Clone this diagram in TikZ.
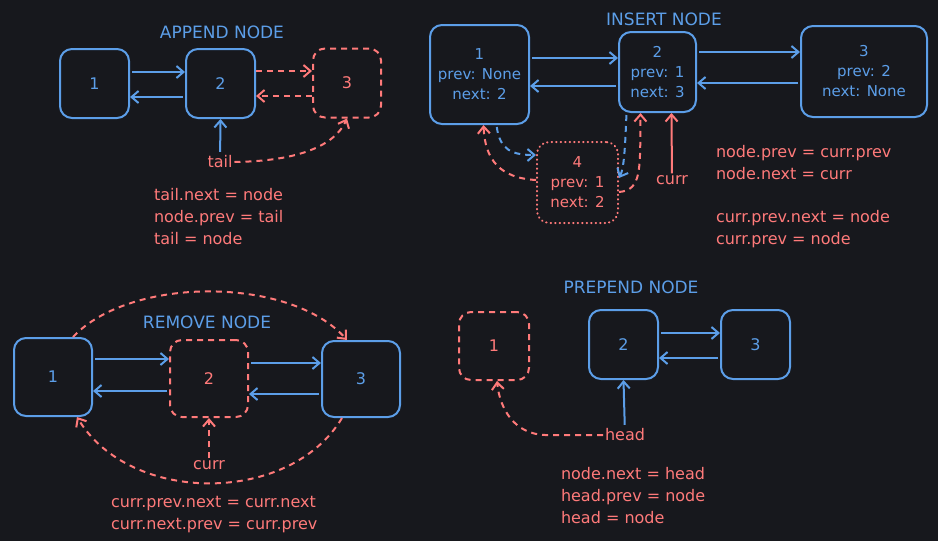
\documentclass[tikz,border=0pt]{standalone}
\usepackage{fontspec}
\setmainfont{DejaVu Sans}
\usetikzlibrary{arrows.meta}
\definecolor{bgdark}{HTML}{17181D}
\definecolor{lblue}{HTML}{5C9EE8}
\definecolor{lred}{HTML}{FF7A7A}

\begin{document}
\begin{tikzpicture}[x=1pt, y=-1pt, line width=2pt,
	box/.style = {draw, rounded corners=12pt, align=center, inner sep=0pt, font=\fontsize{16}{20}\selectfont},
	bnode/.style = {box, draw=lblue, text=lblue},
	rnode/.style = {box, draw=lred, text=lred, dash pattern=on 6pt off 5pt},
	dnode/.style = {box, draw=lred, text=lred, dash pattern=on 0.5pt off 4pt, line cap=round},
	small/.style = {font=\fontsize{15}{20}\selectfont},
	title/.style = {text=lblue, font=\fontsize{17}{20}\selectfont},
	code/.style = {text=lred, align=left, anchor=north west, inner sep=0pt, font=\fontsize{16}{22}\selectfont},
	ptr/.style = {text=lred, inner sep=1pt, font=\fontsize{16}{20}\selectfont},
	blink/.style = {lblue, shorten <=2pt, -{Straight Barb[length=7pt,width=12pt]}},
	rlink/.style = {lred, dash pattern=on 6pt off 5pt, -{Straight Barb[length=7pt,width=12pt]}},
	bdash/.style = {blink, dash pattern=on 6pt off 5pt}]
\useasboundingbox (0,0) rectangle (938,541);
\fill[bgdark] (0,0) rectangle (938,541);

% append
\node[title] (atitle) at (222,32) {APPEND NODE};
\node[bnode, minimum width=69pt, minimum height=69pt] (a1) at (94.5,83.5) {1};
\node[bnode, minimum width=69pt, minimum height=69pt] (a2) at (220.5,83.5) {2};
\node[rnode, minimum width=68pt, minimum height=69pt] (a3) at (347,83) {3};
\node[ptr] (atail) at (220,162) {tail};
\draw[blink] (a1.east |- 0,72) -- (a2.west |- 0,72);
\draw[blink] (a2.west |- 0,97) -- (a1.east |- 0,97);
\draw[rlink] (a2.east |- 0,71) -- (a3.west |- 0,71);
\draw[rlink] (a3.west |- 0,96) -- (a2.east |- 0,96);
\draw[blink] (atail) -- (a2.south);
\draw[rlink] (atail.east) .. controls (300,161) and (335,145) .. (a3.south);
\node[code] (acode) at (153,187) {tail.next = node\\node.prev = tail\\tail = node};

% insert
\node[title] (ititle) at (664,19) {INSERT NODE};
\node[bnode, small, minimum width=99pt, minimum height=99pt] (i1) at (479.5,74.5) {1\\prev: None\\next: 2};
\node[bnode, small, minimum width=77pt, minimum height=80pt] (i2) at (657.5,72) {2\\prev: 1\\next: 3};
\node[bnode, small, minimum width=126pt, minimum height=91pt] (i3) at (864,71.5) {3\\prev: 2\\next: None};
\node[dnode, small, minimum width=81pt, minimum height=81pt] (i4) at (577.5,182.5) {4\\prev: 1\\next: 2};
\node[ptr] (icurr) at (672,180) {curr};
\draw[blink] (i1.east |- 0,58) -- (i2.west |- 0,58);
\draw[blink] (i2.west |- 0,86) -- (i1.east |- 0,86);
\draw[blink] (i2.east |- 0,52) -- (i3.west |- 0,52);
\draw[blink] (i3.west |- 0,83) -- (i2.east |- 0,83);
\draw[bdash] ([xshift=17pt]i1.south) .. controls (500,150) and (512,155) .. (i4.west |- 0,155);
\draw[rlink] (i4.west |- 0,180) .. controls (500,178) and (485,160) .. ([xshift=4pt]i1.south);
\draw[bdash] ([xshift=-31pt]i2.south) .. controls (625,150) and (624,168) .. (i4.east |- 0,178);
\draw[rlink] (i4.east |- 0,192) .. controls (642,190) and (640,170) .. ([xshift=-17pt]i2.south);
\draw[lred, -{Straight Barb[length=7pt,width=12pt]}] (icurr) -- ([xshift=14pt]i2.south);
\node[code] (icode) at (715,144) {node.prev = curr.prev\\node.next = curr\\[21pt]curr.prev.next = node\\curr.prev = node};

% remove
\node[title] (rtitle) at (207,322) {REMOVE NODE};
\node[bnode, minimum width=78pt, minimum height=78pt] (r1) at (53,377) {1};
\node[rnode, minimum width=78pt, minimum height=77pt] (r2) at (209,378.5) {2};
\node[bnode, minimum width=78pt, minimum height=76pt] (r3) at (361,379) {3};
\node[ptr] (rcurr) at (209,465) {curr};
\draw[blink] (r1.east |- 0,359) -- (r2.west |- 0,359);
\draw[blink] (r2.west |- 0,391) -- (r1.east |- 0,391);
\draw[blink] (r2.east |- 0,363) -- (r3.west |- 0,363);
\draw[blink] (r3.west |- 0,394) -- (r2.east |- 0,394);
\draw[rlink] ([xshift=20pt]r1.north) .. controls (130,276) and (290,276) .. ([xshift=-14pt]r3.north);
\draw[rlink] ([xshift=-19pt]r3.south) .. controls (290,505) and (130,505) .. ([xshift=24pt]r1.south);
\draw[rlink] (rcurr) -- (r2.south);
\node[code] (rcode) at (110,495) {curr.prev.next = curr.next\\curr.next.prev = curr.prev};

% prepend
\node[title] (ptitle) at (631,287) {PREPEND NODE};
\node[rnode, minimum width=70pt, minimum height=68pt] (p1) at (494,346) {1};
\node[bnode, minimum width=69pt, minimum height=69pt] (p2) at (623.5,344.5) {2};
\node[bnode, minimum width=69pt, minimum height=69pt] (p3) at (755.5,344.5) {3};
\node[ptr] (phead) at (625,435) {head};
\draw[blink] (p2.east |- 0,333) -- (p3.west |- 0,333);
\draw[blink] (p3.west |- 0,358) -- (p2.east |- 0,358);
\draw[blink] (phead) -- (p2.south);
\draw[rlink] (phead.west) -- (545,435) .. controls (515,434) and (500,410) .. ([xshift=3pt]p1.south);
\node[code] (pcode) at (560,466) {node.next = head\\head.prev = node\\head = node};
\end{tikzpicture}
\end{document}
